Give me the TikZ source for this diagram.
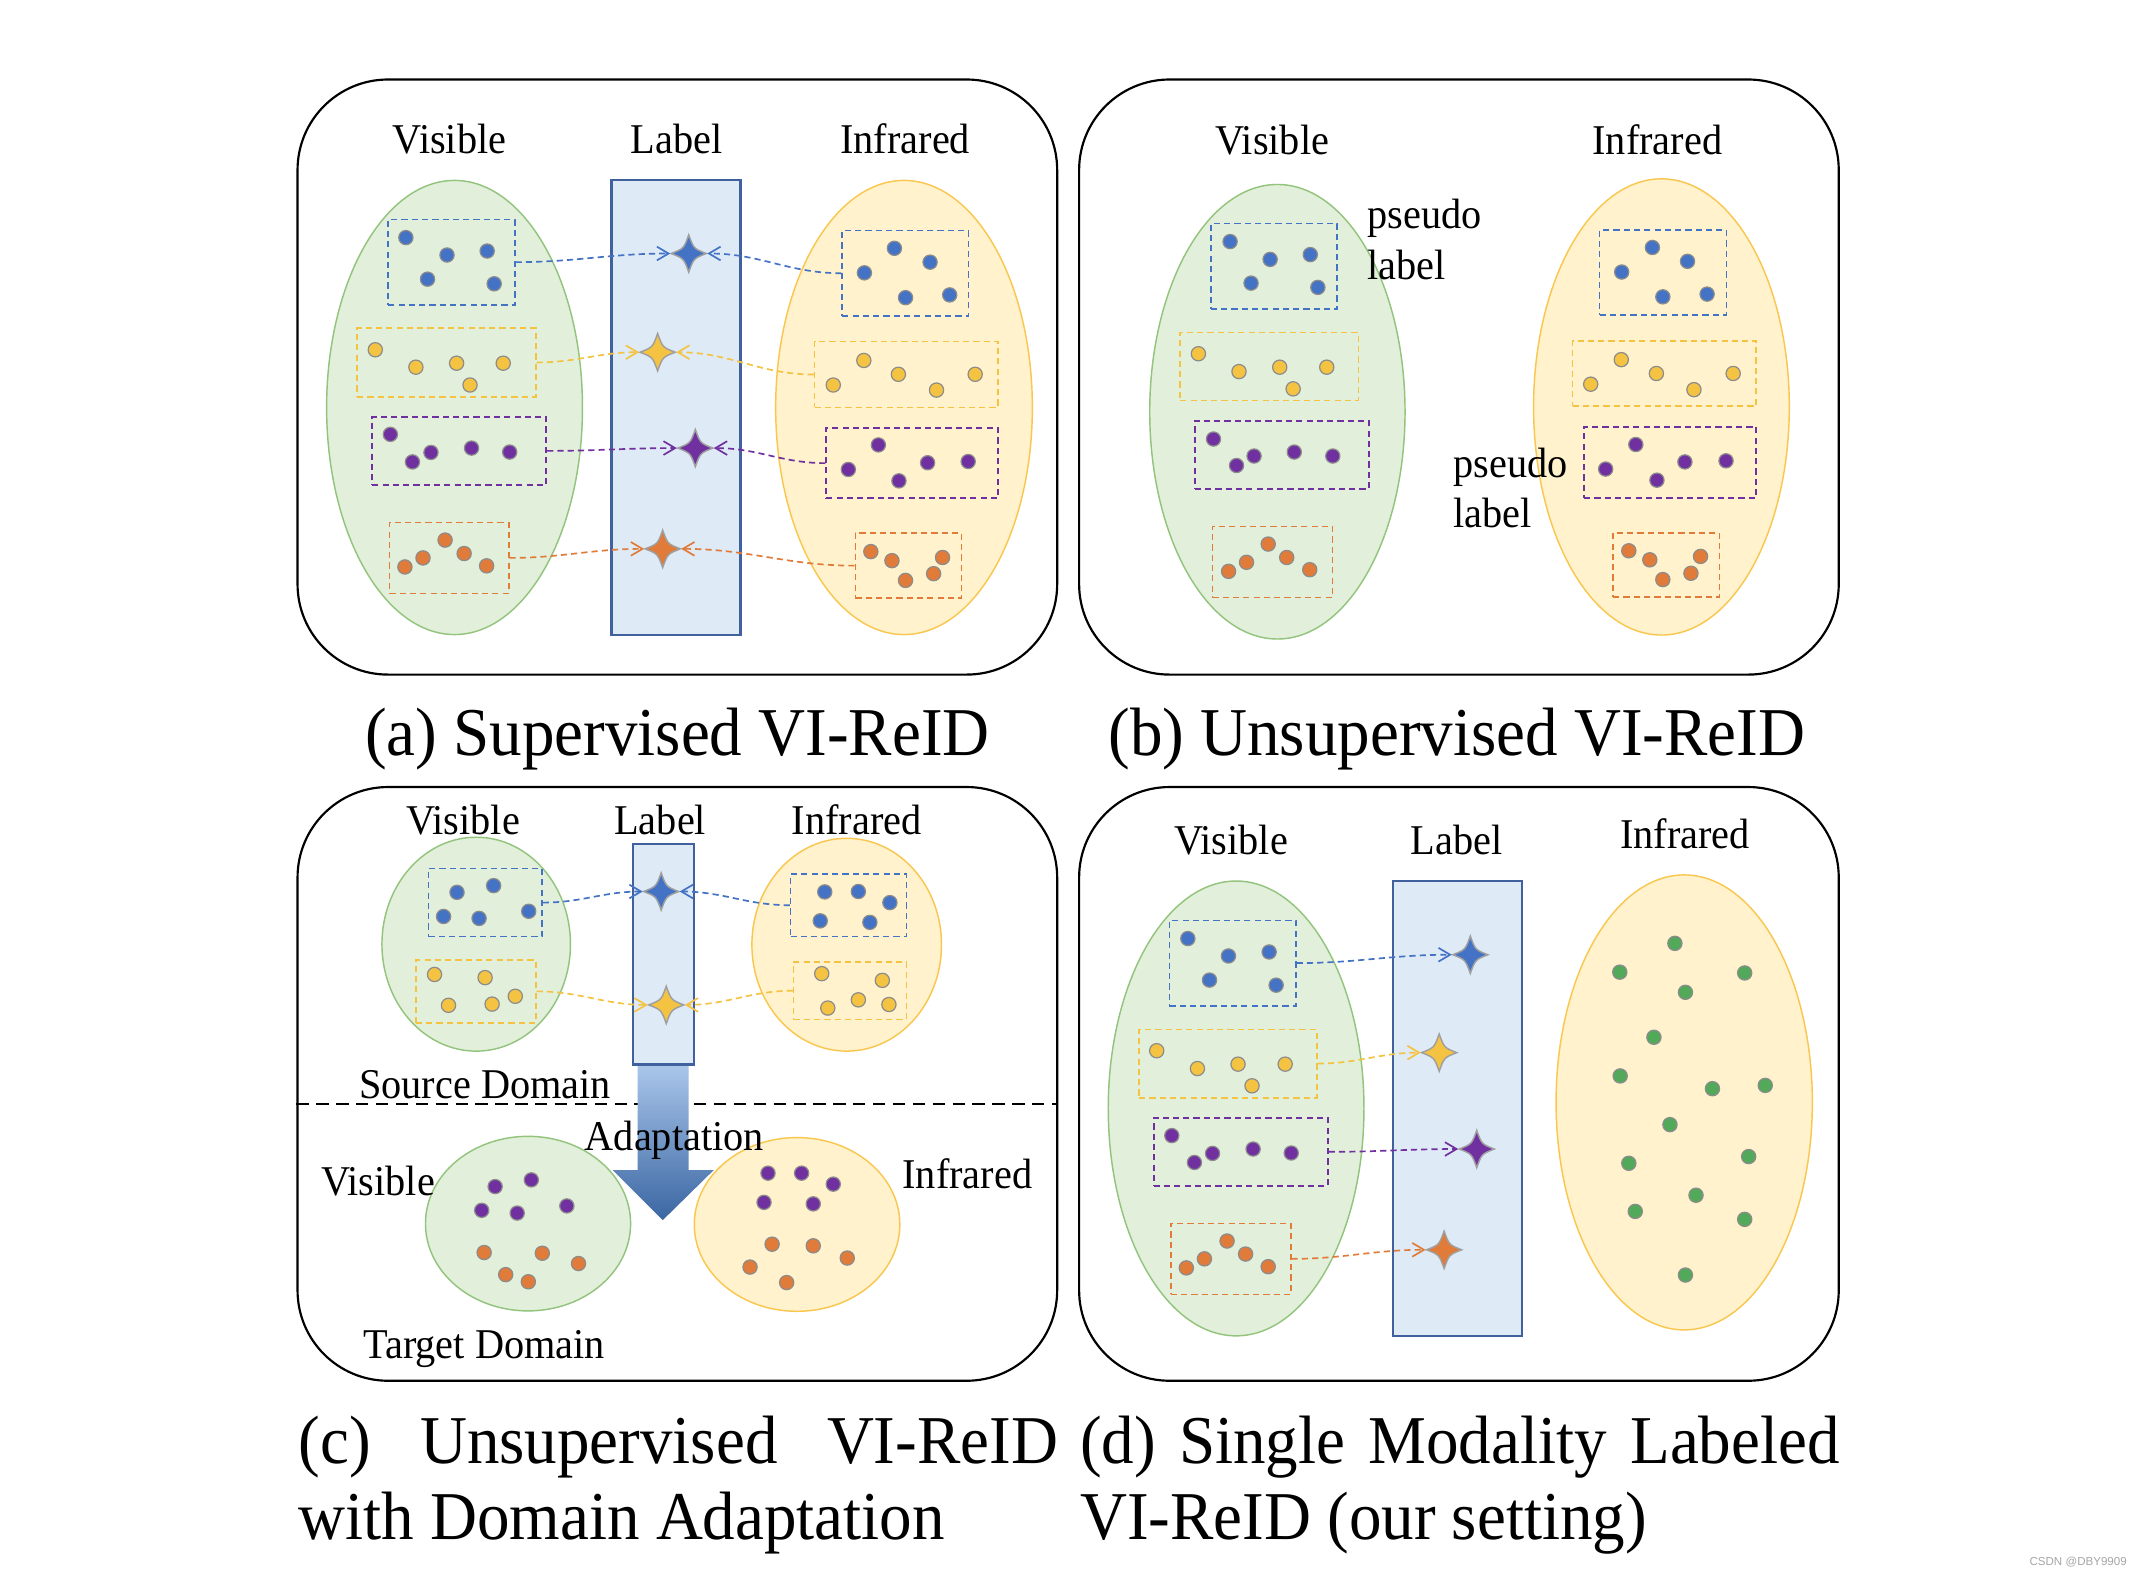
\documentclass[tikz,border=0pt]{standalone}
\usepackage{fontspec}
\setmainfont{Liberation Serif}[FakeStretch=0.95]
\newfontfamily\wmfont{Liberation Sans}
\usetikzlibrary{shapes.geometric,arrows.meta,calc,fit}
\definecolor{cblue}{HTML}{4472C4}
\definecolor{cyel}{HTML}{F5C342}
\definecolor{cpur}{HTML}{7030A0}
\definecolor{cora}{HTML}{E07B39}
\definecolor{cgrn}{HTML}{52A95A}
\definecolor{gellfill}{HTML}{E2EFDA}
\definecolor{gelline}{HTML}{93C47D}
\definecolor{yellfill}{HTML}{FFF2CC}
\definecolor{yelline}{HTML}{F9C74F}
\definecolor{lblfill}{HTML}{DEEAF6}
\definecolor{lblline}{HTML}{41609E}
\definecolor{dotedge}{HTML}{8C8C8C}
\definecolor{arrtop}{HTML}{AAC6EA}
\definecolor{arrbot}{HTML}{3A66A2}
\newcommand\dotgroup[2]{\foreach \p in {#2} {\filldraw[fill=#1, draw=dotedge, line width=0.25pt] \p circle[radius=5.2];}}
\newcommand\drawfourstar[2]{\filldraw[fill=#2, draw=gray!75, line width=0.3pt]
 ($(#1)+(12.8,0)$) .. controls ($(#1)+(3.6,3.6)$) .. ($(#1)+(0,13.6)$)
 .. controls ($(#1)+(-3.6,3.6)$) .. ($(#1)+(-12.8,0)$)
 .. controls ($(#1)+(-3.6,-3.6)$) .. ($(#1)+(0,-13.6)$)
 .. controls ($(#1)+(3.6,-3.6)$) .. ($(#1)+(12.8,0)$) -- cycle;}
\tikzset{
 panel/.style={draw=black, line width=0.45pt, rounded corners=6.6mm, inner sep=0pt},
 gell/.style={ellipse, draw=gelline, fill=gellfill, line width=0.3pt, inner sep=0pt},
 yell/.style={ellipse, draw=yelline, fill=yellfill, line width=0.3pt, inner sep=0pt},
 lrect/.style={rectangle, draw=lblline, fill=lblfill, line width=0.45pt, inner sep=0pt},
 dbox/.style={rectangle, draw=#1, dash pattern=on 0.45mm off 0.3mm, line width=0.35pt, inner sep=0pt},
 snode/.style={rectangle, inner sep=0pt, minimum width=2.56mm, minimum height=2.72mm},
 conn/.style={draw=#1, dash pattern=on 0.45mm off 0.3mm, line width=0.35pt, -{Straight Barb[length=0.85mm,width=1.0mm]}},
 hd/.style={font=\fontsize{8.8}{10}\selectfont, inner sep=0pt, anchor=base},
 hdl/.style={font=\fontsize{8.8}{10}\selectfont, inner sep=0pt, anchor=base west},
 captxt/.style={font=\fontsize{14.2}{16}\selectfont, inner sep=0pt, anchor=base},
 captxtl/.style={font=\fontsize{14.2}{16}\selectfont, inner sep=0pt, anchor=base west},
}
\begin{document}
\begin{tikzpicture}[x=0.1mm, y=-0.1mm]
\fill[white] (0,0) rectangle (1568,1150.8);
\useasboundingbox (0,0) rectangle (1568,1150.8);

% ================= panel (a) =================
\node[panel, fit={(217,58) (771,492)}] (pa) {};
\node[hd] (ta1) at (327.7,112.3) {Visible};
\node[hd] (ta2) at (493.4,112.3) {Label};
\node[hd] (ta3) at (660.2,112.3) {Infrared};
\node[gell, minimum width=18.66mm, minimum height=33.12mm] (ag) at (331.5,297.2) {};
\node[yell, minimum width=18.72mm, minimum height=33.12mm] (ay) at (659.3,297.2) {};
\node[lrect, fit={(446,131) (540,463)}] (al) {};
\node[dbox=cblue, fit={(283.2,160.1) (375.4,222.3)}] (av1) {};
\node[dbox=cyel, fit={(260.5,239.3) (390.8,289.4)}] (av2) {};
\node[dbox=cpur, fit={(271.5,304.1) (398.4,353.6)}] (av3) {};
\node[dbox=cora, fit={(284.0,381.0) (371.0,432.8)}] (av4) {};
\node[dbox=cblue, fit={(614.3,168.2) (706.4,230.4)}] (ai1) {};
\node[dbox=cyel, fit={(594.1,249.1) (727.7,297.2)}] (ai2) {};
\node[dbox=cpur, fit={(602.6,312.2) (727.7,363.4)}] (ai3) {};
\node[dbox=cora, fit={(623.8,388.8) (701.3,436.3)}] (ai4) {};
\dotgroup{cblue}{(296.0,173.3),(326.0,186.0),(355.3,183.1),(311.8,203.6),(360.4,207.0)}
\dotgroup{cyel}{(273.7,255.1),(303.3,267.8),(333.0,264.9),(367.0,264.9),(342.8,280.8)}
\dotgroup{cpur}{(284.7,316.8),(314.3,330.0),(300.8,336.9),(343.9,326.8),(371.7,329.7)}
\dotgroup{cora}{(295.3,413.5),(308.5,406.9),(324.6,393.9),(338.5,403.7),(354.9,412.7)}
\dotgroup{cblue}{(652.3,181.1),(678.3,191.2),(630.4,199.0),(660.4,217.1),(692.6,215.1)}
\dotgroup{cyel}{(630.0,262.9),(655.2,273.0),(607.7,280.8),(683.0,284.5),(711.2,273.0)}
\dotgroup{cpur}{(640.6,324.5),(618.7,342.4),(655.6,350.7),(676.5,337.5),(706.1,336.6)}
\dotgroup{cora}{(635.1,402.3),(650.5,408.9),(660.4,423.3),(680.9,418.4),(687.4,406.6)}
\node[snode] (sa1) at (502.3,184.9) {};
\node[snode] (sa2) at (479.6,256.9) {};
\node[snode] (sa3) at (507.1,326.8) {};
\node[snode] (sa4) at (483.3,400.3) {};
\drawfourstar{sa1}{cblue}
\drawfourstar{sa2}{cyel}
\drawfourstar{sa3}{cpur}
\drawfourstar{sa4}{cora}
\draw[conn=cblue] (av1.east) to[out=0,in=180] (sa1.west);
\draw[conn=cyel] (av2.east) to[out=0,in=180] (sa2.west);
\draw[conn=cpur] (av3.east) to[out=0,in=180] (sa3.west);
\draw[conn=cora] (av4.east) to[out=0,in=180] (sa4.west);
\draw[conn=cblue] (ai1.west) to[out=180,in=0] (sa1.east);
\draw[conn=cyel] (ai2.west) to[out=180,in=0] (sa2.east);
\draw[conn=cpur] (ai3.west) to[out=180,in=0] (sa3.east);
\draw[conn=cora] (ai4.west) to[out=180,in=0] (sa4.east);
\node[captxt] (capa) at (494,551) {(a) Supervised VI-ReID};

% ================= panel (b) =================
\node[panel, fit={(787,58) (1341,492)}] (pb) {};
\node[hd] (tb1) at (927.8,112.9) {Visible};
\node[hd] (tb2) at (1208.7,112.9) {Infrared};
\node[gell, minimum width=18.62mm, minimum height=33.15mm] (bg) at (931.6,300.3) {};
\node[yell, minimum width=18.65mm, minimum height=33.27mm] (by) at (1211.7,296.8) {};
\node[hdl] (tb3) at (996.6,166.4) {pseudo};
\node[hdl] (tb4) at (996.6,203.6) {label};
\node[hdl] (tb5) at (1059.5,348.4) {pseudo};
\node[hdl] (tb6) at (1059.5,385.0) {label};
\node[dbox=cblue, fit={(883.1,163.0) (975.3,225.2)}] (bv1) {};
\node[dbox=cyel, fit={(860.8,242.5) (990.7,292.0)}] (bv2) {};
\node[dbox=cpur, fit={(871.4,307.0) (998.4,356.5)}] (bv3) {};
\node[dbox=cora, fit={(884.2,383.9) (971.7,435.7)}] (bv4) {};
\node[dbox=cblue, fit={(1166.6,167.9) (1259.2,229.8)}] (bi1) {};
\node[dbox=cyel, fit={(1146.9,248.5) (1280.8,296.3)}] (bi2) {};
\node[dbox=cpur, fit={(1155.3,311.3) (1280.8,363.1)}] (bi3) {};
\node[dbox=cora, fit={(1176.5,388.5) (1254.1,435.4)}] (bi4) {};
\dotgroup{cblue}{(897.1,176.2),(926.3,189.2),(955.6,185.7),(912.4,206.5),(961.1,209.6)}
\dotgroup{cyel}{(874.0,258.0),(903.6,271.0),(933.3,267.8),(967.6,267.8),(943.1,283.6)}
\dotgroup{cpur}{(885.0,320.2),(914.6,332.6),(901.8,339.5),(943.9,329.7),(972.0,332.6)}
\dotgroup{cora}{(896.0,416.7),(909.1,410.1),(924.9,396.8),(938.4,406.6),(955.2,415.5)}
\dotgroup{cblue}{(1205.1,180.5),(1230.7,190.6),(1182.7,198.4),(1212.7,216.5),(1245.0,214.5)}
\dotgroup{cyel}{(1182.4,262.3),(1208.0,272.4),(1160.1,280.2),(1235.4,284.2),(1264.0,272.4)}
\dotgroup{cpur}{(1193.0,324.2),(1171.0,342.1),(1208.4,350.2),(1228.8,336.9),(1258.8,336.1)}
\dotgroup{cora}{(1187.9,401.7),(1203.2,408.3),(1212.7,422.7),(1233.2,418.1),(1240.2,405.8)}
\node[captxt] (capb) at (1062.5,551) {(b) Unsupervised VI-ReID};

% ================= panel (c) =================
\node[panel, fit={(217,574) (771,1007)}] (pc) {};
\node[hd] (tc1) at (337.7,608.5) {Visible};
\node[hd] (tc2) at (481.5,608.5) {Label};
\node[hd] (tc3) at (624.9,608.5) {Infrared};
\node[gell, minimum width=13.75mm, minimum height=15.6mm] (cg) at (347.3,688.6) {};
\node[yell, minimum width=13.83mm, minimum height=15.52mm] (cy) at (617.5,689.0) {};
\draw[black, line width=0.4pt, dash pattern=on 0.9mm off 0.55mm] (pc.west |- 0,805.2) -- (pc.east |- 0,805.2);
\shade[top color=arrtop, bottom color=arrbot] (465.0,776.4) -- (502.3,776.4) -- (502.3,853.3) -- (520.6,853.3) -- (483.3,889.9) -- (446.7,853.3) -- (465.0,853.3) -- cycle;
\node[lrect, fit={(461.4,615.7) (506.0,776.4)}] (cl) {};
\node[dbox=cblue, fit={(312.5,633.5) (395.2,683.1)}] (cv1) {};
\node[dbox=cyel, fit={(303.3,700.1) (390.8,745.9)}] (cv2) {};
\node[dbox=cblue, fit={(576.6,637.3) (661.1,683.1)}] (ci1) {};
\node[dbox=cyel, fit={(578.8,701.5) (661.1,743.6)}] (ci2) {};
\dotgroup{cblue}{(333.3,650.8),(360.0,645.9),(323.5,668.4),(349.4,669.8),(385.6,664.6)}
\dotgroup{cyel}{(316.9,710.7),(353.8,713.0),(327.1,733.2),(358.9,732.3),(375.8,726.6)}
\dotgroup{cblue}{(601.5,650.5),(626.0,650.2),(649.0,658.3),(598.2,671.6),(634.4,672.7)}
\dotgroup{cyel}{(599.3,710.1),(643.5,715.0),(603.7,735.2),(626.0,729.2),(648.3,732.6)}
\node[snode] (sc1) at (482.2,650.2) {};
\node[snode] (sc2) at (485.9,732.9) {};
\drawfourstar{sc1}{cblue}
\drawfourstar{sc2}{cyel}
\draw[conn=cblue] (cv1.east) to[out=0,in=180] (sc1.west);
\draw[conn=cyel] (cv2.east) to[out=0,in=180] (sc2.west);
\draw[conn=cblue] (ci1.west) to[out=180,in=0] (sc1.east);
\draw[conn=cyel] (ci2.west) to[out=180,in=0] (sc2.east);
\node[hd] (tc4) at (353.8,801.4) {Source Domain};
\node[gell, minimum width=14.96mm, minimum height=12.73mm] (cg2) at (385.1,892.4) {};
\node[yell, minimum width=14.99mm, minimum height=12.67mm] (cy2) at (581.3,893.0) {};
\dotgroup{cpur}{(361.1,865.4),(387.5,860.5),(351.3,882.7),(377.2,884.7),(413.4,879.5)}
\dotgroup{cora}{(353.1,913.5),(395.5,914.0),(421.9,921.5),(368.8,929.6),(385.3,934.8)}
\dotgroup{cpur}{(560.1,855.6),(584.6,855.6),(607.7,863.6),(557.2,876.9),(593.1,878.0)}
\dotgroup{cora}{(563.1,907.4),(593.1,908.6),(617.9,917.5),(547.0,924.1),(573.7,935.4)}
\node[hd] (tc5) at (491.8,838.9) {Adaptation};
\node[hd] (tc6) at (275.7,872.0) {Visible};
\node[hd] (tc7) at (705.5,866.8) {Infrared};
\node[hd] (tc8) at (353.1,990.7) {Target Domain};
\node[captxtl] (capc1) at (217,1067) {\makebox[55.4mm][s]{(c) Unsupervised VI-ReID}};
\node[captxtl] (capc2) at (217,1123) {with Domain Adaptation};

% ================= panel (d) =================
\node[panel, fit={(787,574) (1341,1007)}] (pd) {};
\node[hd] (td1) at (897.8,623.5) {Visible};
\node[hd] (td2) at (1062.4,623.5) {Label};
\node[hd] (td3) at (1228.8,619.1) {Infrared};
\node[gell, minimum width=18.65mm, minimum height=33.17mm] (dg) at (901.5,808.4) {};
\node[lrect, fit={(1015.9,642.5) (1110.0,974.5)}] (dl) {};
\node[yell, minimum width=18.69mm, minimum height=33.18mm] (dy) at (1228.3,804.0) {};
\node[dbox=cblue, fit={(852.8,671.3) (945.0,733.5)}] (dv1) {};
\node[dbox=cyel, fit={(830.8,750.8) (960.3,800.6)}] (dv2) {};
\node[dbox=cpur, fit={(841.4,815.3) (968.4,864.8)}] (dv3) {};
\node[dbox=cora, fit={(853.9,892.2) (941.3,944.0)}] (dv4) {};
\dotgroup{cblue}{(866.3,684.5),(895.9,697.2),(925.6,694.3),(882.1,714.8),(930.7,718.5)}
\dotgroup{cyel}{(843.6,766.3),(873.3,779.3),(902.9,776.1),(937.3,776.1),(913.1,791.9)}
\dotgroup{cpur}{(854.6,828.2),(884.3,841.2),(871.1,847.8),(913.9,838.0),(941.7,840.9)}
\dotgroup{cora}{(865.2,924.7),(878.4,918.1),(894.9,905.1),(908.4,914.6),(924.9,923.8)}
\dotgroup{cgrn}{(1221.5,688.0),(1181.3,709.0),(1272.4,709.6),(1229.2,723.7),(1206.2,756.5),(1181.6,784.7),(1248.9,794.0),(1287.4,791.6),(1217.9,820.2),(1187.9,848.4),(1275.3,843.5),(1236.9,871.7),(1192.6,883.5),(1272.4,889.3),(1229.2,929.9)}
\node[snode] (sd1) at (1072.3,696.3) {};
\node[snode] (sd2) at (1049.6,767.7) {};
\node[snode] (sd3) at (1077.0,838.0) {};
\node[snode] (sd4) at (1053.2,911.5) {};
\drawfourstar{sd1}{cblue}
\drawfourstar{sd2}{cyel}
\drawfourstar{sd3}{cpur}
\drawfourstar{sd4}{cora}
\draw[conn=cblue] (dv1.east) to[out=0,in=180] (sd1.west);
\draw[conn=cyel] (dv2.east) to[out=0,in=180] (sd2.west);
\draw[conn=cpur] (dv3.east) to[out=0,in=180] (sd3.west);
\draw[conn=cora] (dv4.east) to[out=0,in=180] (sd4.west);
\node[captxtl] (capd1) at (787,1067) {\makebox[55.4mm][s]{(d) Single Modality Labeled}};
\node[captxtl] (capd2) at (787,1123) {VI-ReID (our setting)};

% watermark
\node[font=\wmfont\fontsize{2.4}{3}\selectfont, text=gray!70, inner sep=0pt, anchor=base] (wm) at (1515.6,1142) {CSDN @DBY9909};
\end{tikzpicture}
\end{document}
